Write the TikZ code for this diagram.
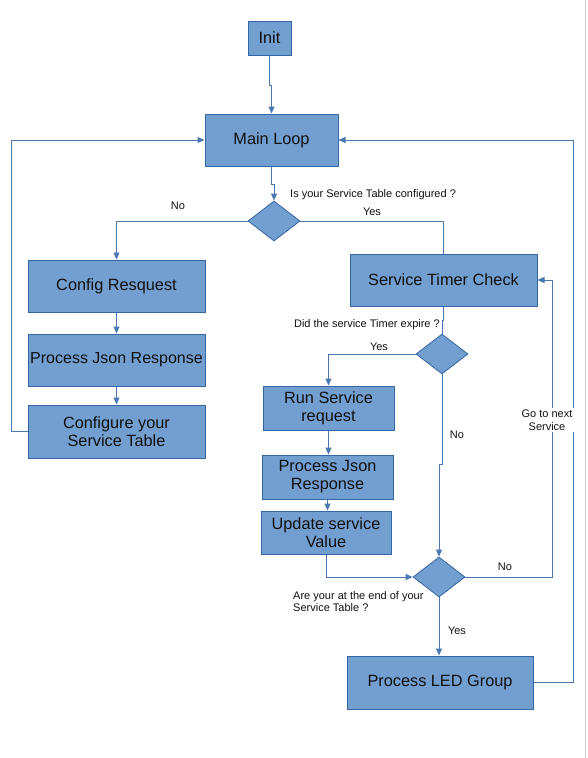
\documentclass[tikz,border=0pt]{standalone}
\usepackage{fontspec}
\setmainfont{Liberation Sans}
\usetikzlibrary{arrows.meta,shapes.geometric,calc}
\definecolor{boxfill}{HTML}{729FCF}
\definecolor{boxline}{HTML}{3465A4}
\definecolor{connc}{HTML}{4A76B2}
\definecolor{txt}{HTML}{111111}
\begin{document}
\begin{tikzpicture}[x=1pt,y=-1pt,
 box/.style={draw=boxline, fill=boxfill, line width=1pt, inner sep=1pt, align=center, font=\fontsize{16.3}{18}\selectfont, text=txt},
 dec/.style={diamond, draw=boxline, fill=boxfill, line width=0.8pt, minimum width=52pt, minimum height=40pt, inner sep=0pt},
 conn/.style={draw=connc, line width=1pt},
 arr/.style={conn, -{Triangle[length=7pt,width=6pt]}},
 lbl/.style={font=\fontsize{11}{12.5}\selectfont, text=txt, inner sep=1pt},
]
\useasboundingbox (0,0) rectangle (587,758);
\fill[white] (0,0) rectangle (587,758);
\draw[black!20, line width=1pt] (585.5,0) -- (585.5,758);

\node[box, minimum width=43pt, minimum height=34pt] (init) at (269.5,38) {Init};
\node[box, minimum width=133pt, minimum height=52pt] (main) at (271.5,140) {Main Loop};
\node[dec] (d1) at (274,221) {};
\node[box, minimum width=177pt, minimum height=52pt] (cfg) at (116.5,286) {Config Resquest};
\node[box, minimum width=177pt, minimum height=52pt, inner sep=0pt, font=\fontsize{16}{18}\selectfont] (pj1) at (116.5,360) {Process Json Response};
\node[box, minimum width=177pt, minimum height=53pt] (cst) at (116.5,431.5) {Configure your\\Service Table};
\node[box, minimum width=187pt, minimum height=52pt] (stc) at (443.5,280) {Service Timer Check};
\node[dec] (d2) at (442,354) {};
\node[box, minimum width=131pt, minimum height=44pt] (run) at (328.5,408) {Run Service\\request};
\node[box, minimum width=131pt, minimum height=44pt] (pj2) at (327.5,477) {Process Json\\Response};
\node[box, minimum width=130pt, minimum height=43pt] (upd) at (326,532.5) {Update service\\Value};
\node[dec] (d3) at (439,577) {};
\node[box, minimum width=186pt, minimum height=53pt] (led) at (440,682.5) {Process LED Group};

\draw[arr] (init.south) -- ++(0,30) -| (main.north);
\draw[arr] (main.south) -- ++(0,18) -| (d1.north);
\draw[arr] (d1.west) -| (cfg.north);
\draw[conn] (d1.east) -| (stc.north);
\draw[arr] (cfg.south) -- (pj1.north);
\draw[arr] (pj1.south) -- (cst.north);
\draw[arr] (cst.west) -- ++(-16,0) |- (main.west);
\draw[conn] (stc.south) -- ++(0,14) -| (d2.north);
\draw[arr] (d2.west) -| (run.north);
\draw[arr] (run.south) -- (run.south |- pj2.north);
\draw[arr] (pj2.south) -- (pj2.south |- upd.north);
\draw[arr] (upd.south) |- (d3.west);
\draw[arr] (d2.south) -- ++(0,90) -| (d3.north);
\draw[arr] (d3.east) -- ++(87,0) |- (stc.east);
\draw[arr] (d3.south) -- (d3.south |- led.north);
\draw[arr] (led.east) -- ++(40,0) |- (main.east);

\node[lbl] (no1) at (178,206) {No};
\node[lbl, anchor=west] (q1) at (289,195) {Is your Service Table configured ?};
\node[lbl] (yes1) at (372,212) {Yes};
\node[lbl, anchor=east] (q2) at (441,325) {Did the service Timer expire ?};
\node[lbl] (yes2) at (379,347) {Yes};
\node[lbl] (no2) at (457,435) {No};
\node[lbl, fill=white, align=center, inner sep=2pt] (go) at (547,420) {Go to next\\Service};
\node[lbl] (no3) at (505,567) {No};
\node[lbl, anchor=north west, align=left] (q3) at (292,590) {Are your at the end of your\\Service Table ?};
\node[lbl] (yes3) at (457,631) {Yes};
\end{tikzpicture}
\end{document}
